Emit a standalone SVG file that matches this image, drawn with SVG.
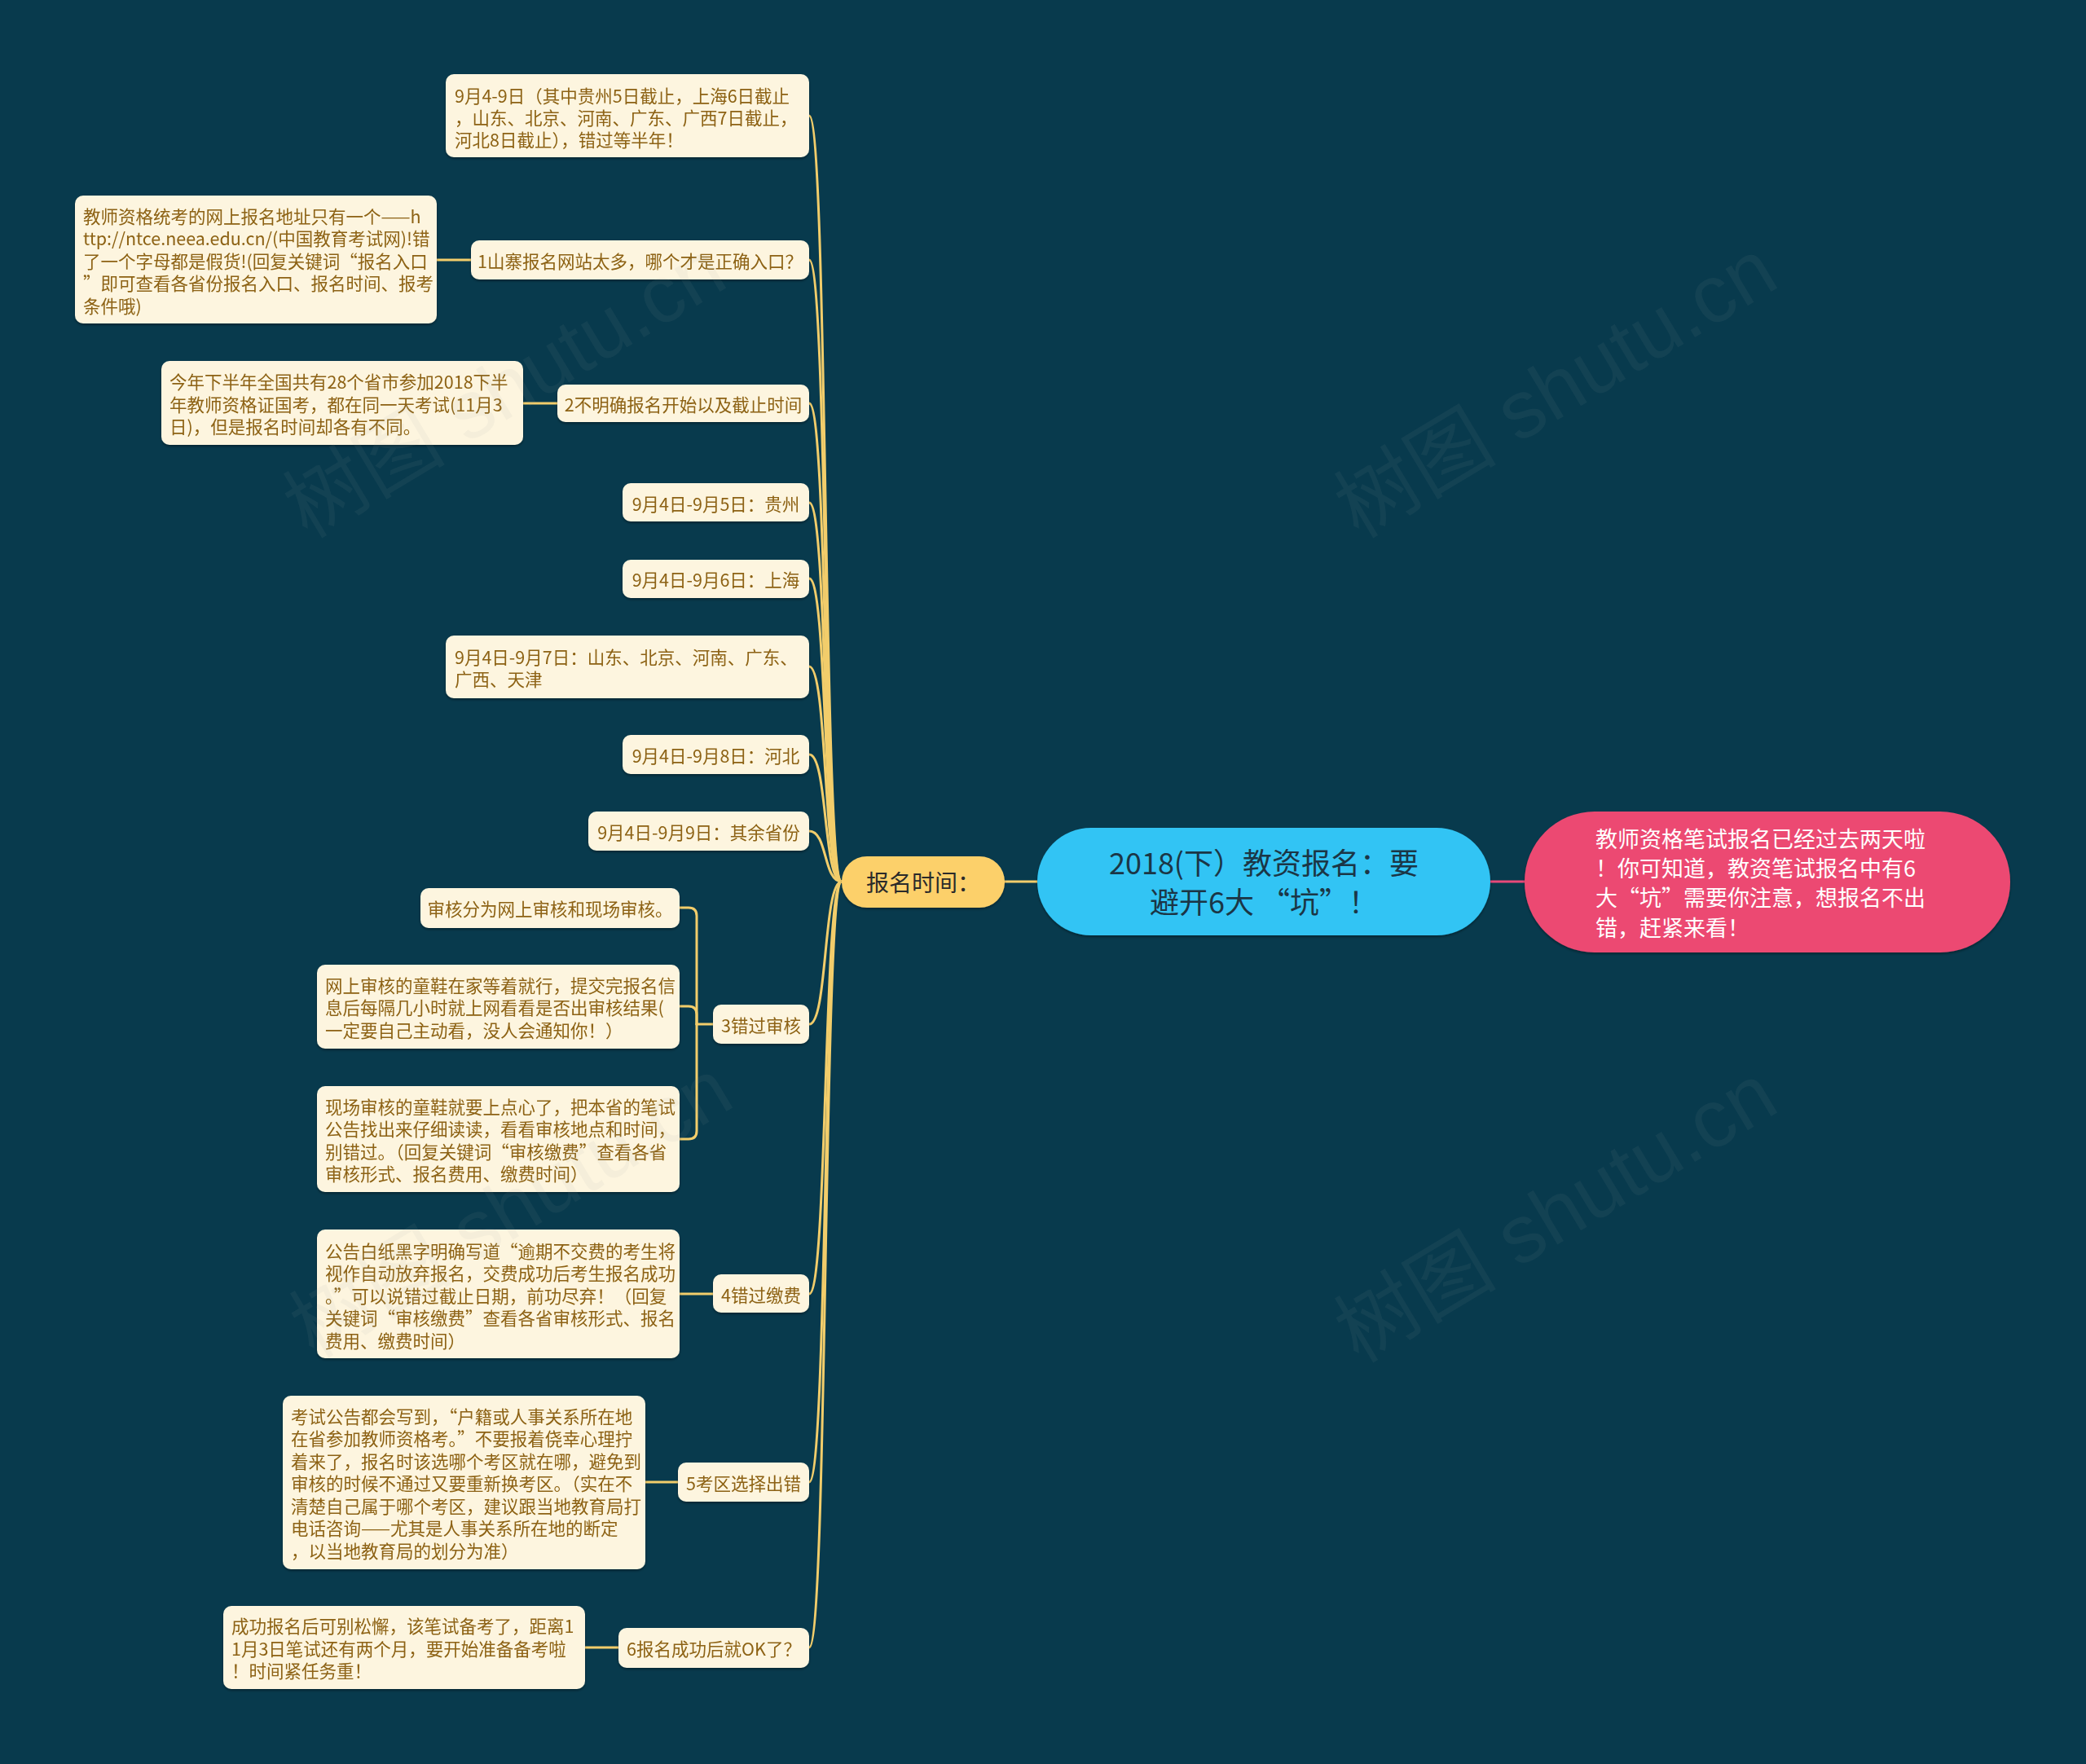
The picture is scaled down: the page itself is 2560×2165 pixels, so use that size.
<svg xmlns="http://www.w3.org/2000/svg" width="2560" height="2165" viewBox="0 0 2560 2165">
<defs>
<style>
text{font-family:"Noto Sans CJK SC","Noto Sans",sans-serif;}
.leaf rect{fill:#fdf5df;}
.leaf text{fill:#8d6212;font-size:21.5px;dominant-baseline:central;}
.mid{text-anchor:middle;}
.con path{fill:none;stroke:#f2cd6b;stroke-width:3;stroke-linecap:round;}
.wm{fill:#9aa0a3;fill-opacity:0.08;font-size:100px;font-family:"Liberation Sans","Noto Sans CJK SC",sans-serif;}
</style>
<filter id="sh" x="-10%" y="-10%" width="120%" height="130%">
<feDropShadow dx="0" dy="2" stdDeviation="1.5" flood-color="#000" flood-opacity="0.35"/>
</filter>
</defs>
<rect x="0" y="0" width="2560" height="2165" fill="#083a4d"/>

<g id="connectors" class="con">
<path d="M993 142 C1016 142 1010 1082 1033 1082"/>
<path d="M993 319 C1016 319 1010 1082 1033 1082"/>
<path d="M993 495 C1016 495 1010 1082 1033 1082"/>
<path d="M993 617 C1016 617 1010 1082 1033 1082"/>
<path d="M993 710 C1016 710 1010 1082 1033 1082"/>
<path d="M993 818 C1016 818 1010 1082 1033 1082"/>
<path d="M993 926 C1016 926 1010 1082 1033 1082"/>
<path d="M993 1020 C1016 1020 1010 1082 1033 1082"/>
<path d="M993 1257 C1016 1257 1010 1082 1033 1082"/>
<path d="M993 1588 C1016 1588 1010 1082 1033 1082"/>
<path d="M993 1819 C1016 1819 1010 1082 1033 1082"/>
<path d="M993 2022 C1016 2022 1010 1082 1033 1082"/>
<path d="M1233 1082 L1273 1082"/>
<path d="M1829 1082 L1871 1082" style="stroke:#e8497a"/>
<path d="M536 319 L578 319"/>
<path d="M642 495 L684 495"/>
<path d="M875 1257 L855 1257"/>
<path d="M834 1114 L845 1114 Q855 1114 855 1124 L855 1257"/>
<path d="M834 1235 L845 1235 Q855 1235 855 1245 L855 1257"/>
<path d="M834 1398 L845 1398 Q855 1398 855 1388 L855 1257"/>
<path d="M834 1588 L875 1588"/>
<path d="M792 1819 L832 1819"/>
<path d="M718 2022 L759 2022"/>
</g>

<g id="root">
<rect x="1273" y="1016" width="556" height="132" rx="66" fill="#30c4f4" filter="url(#sh)"/>
<text x="1551" y="1057" font-size="36" fill="#1b3646" text-anchor="middle" dominant-baseline="central">2018(下）教资报名：要</text>
<text x="1551" y="1105" font-size="36" fill="#1b3646" text-anchor="middle" dominant-baseline="central">避开6大 “坑”！</text>
</g>

<g id="summary">
<rect x="1871" y="996" width="596" height="173" rx="86" fill="#ec4a72" filter="url(#sh)"/>
<g font-size="27" fill="#ffffff" dominant-baseline="central">
<text x="1958" y="1028">教师资格笔试报名已经过去两天啦</text>
<text x="1958" y="1064">！你可知道，教资笔试报名中有6</text>
<text x="1958" y="1100">大“坑”需要你注意，想报名不出</text>
<text x="1958" y="1137">错，赶紧来看！</text>
</g>
</g>

<g id="time">
<rect x="1033" y="1051" width="200" height="63" rx="31" fill="#fcd06a" filter="url(#sh)"/>
<text x="1133" y="1082" font-size="28" fill="#2a2a2a" text-anchor="middle" dominant-baseline="central">报名时间：</text>
</g>

<g id="n1" class="leaf" filter="url(#sh)">
<rect x="547" y="91" width="446" height="102" rx="10"/>
<text x="558" y="116">9月4-9日（其中贵州5日截止，上海6日截止</text>
<text x="558" y="143">，山东、北京、河南、广东、广西7日截止，</text>
<text x="558" y="170">河北8日截止），错过等半年！</text>
</g>

<g id="n2" class="leaf" filter="url(#sh)">
<rect x="578" y="295" width="415" height="48" rx="10"/>
<text class="mid" x="785.5" y="319">1山寨报名网站太多，哪个才是正确入口？</text>
</g>
<g id="n2c" class="leaf" filter="url(#sh)">
<rect x="92" y="240" width="444" height="157" rx="10"/>
<text x="102" y="264">教师资格统考的网上报名地址只有一个——h</text>
<text x="102" y="291.5">ttp://ntce.neea.edu.cn/(中国教育考试网)!错</text>
<text x="102" y="319">了一个字母都是假货!(回复关键词“报名入口</text>
<text x="102" y="346.5">”即可查看各省份报名入口、报名时间、报考</text>
<text x="102" y="374">条件哦)</text>
</g>

<g id="n3" class="leaf" filter="url(#sh)">
<rect x="684" y="472" width="309" height="46" rx="10"/>
<text class="mid" x="838.5" y="495">2不明确报名开始以及截止时间</text>
</g>
<g id="n3c" class="leaf" filter="url(#sh)">
<rect x="198" y="443" width="444" height="103" rx="10"/>
<text x="208" y="467.5">今年下半年全国共有28个省市参加2018下半</text>
<text x="208" y="495">年教师资格证国考，都在同一天考试(11月3</text>
<text x="208" y="522.5">日)，但是报名时间却各有不同。</text>
</g>

<g id="n4" class="leaf" filter="url(#sh)">
<rect x="764" y="593" width="229" height="47" rx="10"/>
<text class="mid" x="878.5" y="617">9月4日-9月5日：贵州</text>
</g>
<g id="n5" class="leaf" filter="url(#sh)">
<rect x="764" y="687" width="229" height="47" rx="10"/>
<text class="mid" x="878.5" y="710">9月4日-9月6日：上海</text>
</g>
<g id="n6" class="leaf" filter="url(#sh)">
<rect x="547" y="780" width="446" height="77" rx="10"/>
<text x="558" y="805">9月4日-9月7日：山东、北京、河南、广东、</text>
<text x="558" y="832">广西、天津</text>
</g>
<g id="n7" class="leaf" filter="url(#sh)">
<rect x="764" y="902" width="229" height="48" rx="10"/>
<text class="mid" x="878.5" y="926">9月4日-9月8日：河北</text>
</g>
<g id="n8" class="leaf" filter="url(#sh)">
<rect x="722" y="996" width="271" height="48" rx="10"/>
<text class="mid" x="857.5" y="1020">9月4日-9月9日：其余省份</text>
</g>

<g id="n9" class="leaf" filter="url(#sh)">
<rect x="875" y="1233" width="118" height="48" rx="10"/>
<text class="mid" x="934" y="1257">3错过审核</text>
</g>
<g id="n9a" class="leaf" filter="url(#sh)">
<rect x="516" y="1090" width="318" height="49" rx="10"/>
<text class="mid" x="675" y="1114">审核分为网上审核和现场审核。</text>
</g>
<g id="n9b" class="leaf" filter="url(#sh)">
<rect x="389" y="1184" width="445" height="103" rx="10"/>
<text x="399" y="1208">网上审核的童鞋在家等着就行，提交完报名信</text>
<text x="399" y="1235.5">息后每隔几小时就上网看看是否出审核结果(</text>
<text x="399" y="1263">一定要自己主动看，没人会通知你！）</text>
</g>
<g id="n9c" class="leaf" filter="url(#sh)">
<rect x="389" y="1333" width="445" height="130" rx="10"/>
<text x="399" y="1357">现场审核的童鞋就要上点心了，把本省的笔试</text>
<text x="399" y="1384.5">公告找出来仔细读读，看看审核地点和时间，</text>
<text x="399" y="1412">别错过。（回复关键词“审核缴费”查看各省</text>
<text x="399" y="1439.5">审核形式、报名费用、缴费时间）</text>
</g>

<g id="n10" class="leaf" filter="url(#sh)">
<rect x="875" y="1564" width="118" height="47" rx="10"/>
<text class="mid" x="934" y="1588">4错过缴费</text>
</g>
<g id="n10c" class="leaf" filter="url(#sh)">
<rect x="389" y="1509" width="445" height="158" rx="10"/>
<text x="399" y="1534">公告白纸黑字明确写道“逾期不交费的考生将</text>
<text x="399" y="1561.5">视作自动放弃报名，交费成功后考生报名成功</text>
<text x="399" y="1589">。”可以说错过截止日期，前功尽弃！（回复</text>
<text x="399" y="1616.5">关键词“审核缴费”查看各省审核形式、报名</text>
<text x="399" y="1644">费用、缴费时间）</text>
</g>

<g id="n11" class="leaf" filter="url(#sh)">
<rect x="832" y="1795" width="161" height="48" rx="10"/>
<text class="mid" x="912.5" y="1819">5考区选择出错</text>
</g>
<g id="n11c" class="leaf" filter="url(#sh)">
<rect x="347" y="1713" width="445" height="213" rx="10"/>
<text x="357" y="1737">考试公告都会写到，“户籍或人事关系所在地</text>
<text x="357" y="1764.5">在省参加教师资格考。”不要报着侥幸心理拧</text>
<text x="357" y="1792">着来了，报名时该选哪个考区就在哪，避免到</text>
<text x="357" y="1819.5">审核的时候不通过又要重新换考区。（实在不</text>
<text x="357" y="1847">清楚自己属于哪个考区，建议跟当地教育局打</text>
<text x="357" y="1874.5">电话咨询——尤其是人事关系所在地的断定</text>
<text x="357" y="1902">，以当地教育局的划分为准）</text>
</g>

<g id="n12" class="leaf" filter="url(#sh)">
<rect x="759" y="1998" width="234" height="49" rx="10"/>
<text class="mid" x="876" y="2022">6报名成功后就OK了？</text>
</g>
<g id="n12c" class="leaf" filter="url(#sh)">
<rect x="274" y="1971" width="444" height="102" rx="10"/>
<text x="284" y="1994.5">成功报名后可别松懈，该笔试备考了，距离1</text>
<text x="284" y="2022">1月3日笔试还有两个月，要开始准备备考啦</text>
<text x="284" y="2049.5">！时间紧任务重！</text>
</g>

<g id="watermarks">
<text class="wm" transform="translate(637 506) rotate(-31)" text-anchor="middle">树图 shutu.cn</text>
<text class="wm" transform="translate(1927 506) rotate(-31)" text-anchor="middle">树图 shutu.cn</text>
<text class="wm" transform="translate(645 1512) rotate(-31)" text-anchor="middle">树图 shutu.cn</text>
<text class="wm" transform="translate(1927 1518) rotate(-31)" text-anchor="middle">树图 shutu.cn</text>
</g>
</svg>
